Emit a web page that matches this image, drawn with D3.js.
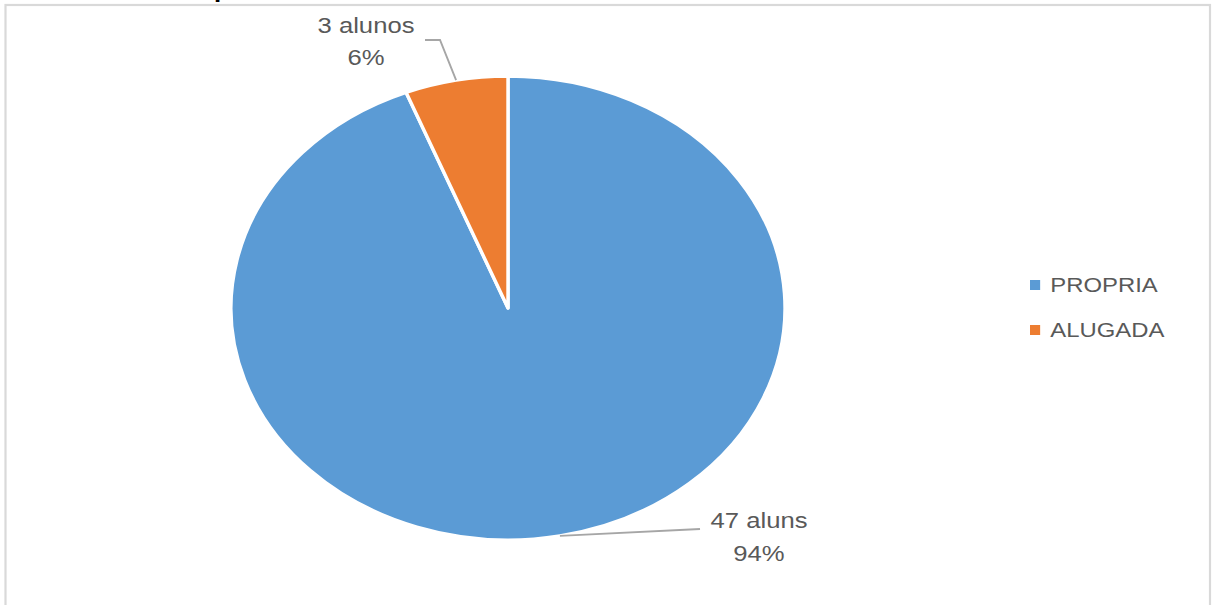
<!DOCTYPE html>
<html>
<head>
<meta charset="utf-8">
<script src="https://cdn.jsdelivr.net/npm/d3@7"></script>
<style>
  html, body { margin: 0; padding: 0; background: #ffffff; }
  svg { display: block; }
  text { font-family: "Liberation Sans", Arial, sans-serif; }
</style>
</head>
<body>
<svg id="chart" width="1212" height="605"></svg>
<script>
// Housing type of the students
const categories = ["PROPRIA", "ALUGADA"];
const values = [47, 3];
const units = ["aluns", "alunos"];
const colors = ["#5B9BD5", "#ED7D31"];

const W = 1212, H = 605;
const sx = 1.194;          // horizontal stretch of the whole figure
const cx = 508, cy = 308;  // pie centre
const R = 232;             // pie radius (before stretch)

const svg = d3.select("#chart");

// chart frame
svg.append("rect")
  .attr("x", 5.5).attr("y", 5)
  .attr("width", 1204.5).attr("height", 640)
  .attr("fill", "#ffffff")
  .attr("stroke", "#d9d9d9")
  .attr("stroke-width", 2.2);

// title (runs off the top edge)
svg.append("text")
  .attr("x", 214).attr("y", -3)
  .attr("font-size", 26).attr("font-weight", "bold")
  .attr("fill", "#000000")
  .text("p");

const total = d3.sum(values);
const pie = d3.pie().sort(null).value(d => d)(values);
const arc = d3.arc().innerRadius(0).outerRadius(R);

const g = svg.append("g")
  .attr("transform", `translate(${cx},${cy}) scale(${sx},1)`);

g.selectAll("path.slice")
  .data(pie)
  .join("path")
  .attr("class", "slice")
  .attr("d", arc)
  .attr("fill", (d, i) => colors[i])
  .attr("stroke", "#ffffff")
  .attr("stroke-width", 3.4)
  .attr("stroke-linejoin", "round")
  .attr("vector-effect", "non-scaling-stroke");

// point on the rim at a slice's middle angle, in page pixels
function rimPoint(d) {
  const a = (d.startAngle + d.endAngle) / 2;
  return [cx + sx * R * Math.sin(a), cy - R * Math.cos(a)];
}

// leader line elbows and label anchors for each slice
const leaderPaths = [
  [[700, 529]],
  [[440, 40], [425, 40]]
];
const labelPos = [
  { x: 759, y1: 528, y2: 561 },
  { x: 366, y1: 33, y2: 65 }
];

pie.forEach((d, i) => {
  const pts = [rimPoint(d)].concat(leaderPaths[i]);
  svg.append("path")
    .attr("d", d3.line()(pts))
    .attr("fill", "none")
    .attr("stroke", "#a6a6a6")
    .attr("stroke-width", 1.9);

  const pct = Math.round(values[i] / total * 100) + "%";
  const lg = svg.append("g")
    .attr("transform", `translate(${labelPos[i].x},0) scale(${sx},1)`);
  lg.append("text")
    .attr("x", 0).attr("y", labelPos[i].y1)
    .attr("text-anchor", "middle")
    .attr("font-size", 21.5)
    .attr("fill", "#595959")
    .text(values[i] + " " + units[i]);
  lg.append("text")
    .attr("x", 0).attr("y", labelPos[i].y2)
    .attr("text-anchor", "middle")
    .attr("font-size", 21.5)
    .attr("fill", "#595959")
    .text(pct);
});

// legend
const legend = svg.append("g")
  .attr("transform", `translate(1030,0) scale(${sx},1)`);
const ly = d3.scalePoint().domain(categories).range([285, 330]);
categories.forEach((c, i) => {
  legend.append("rect")
    .attr("x", 0).attr("y", ly(c) - 5)
    .attr("width", 8.5).attr("height", 10)
    .attr("fill", colors[i]);
  legend.append("text")
    .attr("x", 17).attr("y", ly(c) + 7.5)
    .attr("font-size", 20)
    .attr("fill", "#595959")
    .text(c);
});
</script>
</body>
</html>
